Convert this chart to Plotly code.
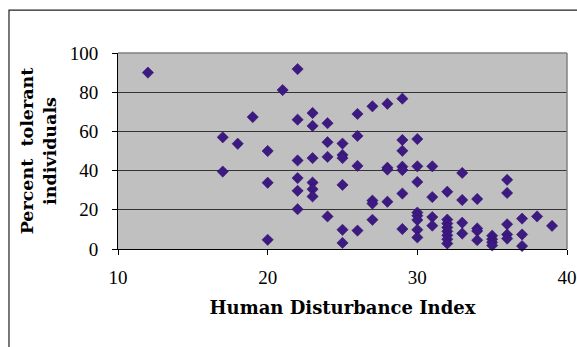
import plotly.graph_objects as go

# Human Disturbance Index (x) and Percent tolerant individuals (y)
hdi = [12,
       17, 17,
       18,
       19,
       20, 20, 20,
       21,
       22, 22, 22, 22, 22, 22,
       23, 23, 23, 23, 23, 23,
       24, 24, 24, 24,
       25, 25, 25, 25, 25, 25,
       26, 26, 26, 26,
       27, 27, 27, 27,
       28, 28, 28, 28,
       29, 29, 29, 29, 29, 29, 29,
       30, 30, 30, 30, 30, 30, 30, 30,
       31, 31, 31, 31,
       32, 32, 32, 32, 32, 32, 32, 32,
       33, 33, 33, 33,
       34, 34, 34, 34,
       35, 35, 35, 35,
       36, 36, 36, 36, 36,
       37, 37, 37,
       38,
       39]
pct_tolerant = [90,
                57, 39.5,
                53.7,
                67.3,
                50, 33.8, 4.7,
                81.1,
                91.8, 66, 45.2, 36.2, 29.7, 20.3,
                69.4, 62.8, 46.4, 33.9, 30.5, 26.8,
                64.2, 54.5, 47, 16.6,
                53.8, 48, 46.4, 32.7, 9.8, 3.1,
                68.9, 57.7, 42.4, 9.4,
                72.8, 24.7, 23.2, 14.9,
                74.1, 41.5, 40.5, 24.1,
                76.7, 55.6, 50.1, 42, 40.3, 28.3, 10.2,
                56.1, 42.2, 34.2, 18.6, 17, 14.8, 9.8, 5.9,
                42.2, 26.5, 16.3, 11.9,
                29.2, 15, 13, 11, 9, 7, 5, 2.8,
                38.8, 25, 13.4, 7.9,
                25.5, 10.5, 9.2, 4.5,
                6.8, 5, 3.4, 1.8,
                35.3, 28.6, 12.6, 7.4, 5.3,
                15.5, 7.4, 1.5,
                16.6,
                11.8]

x_ticks = [10, 20, 30, 40]
y_ticks = [0, 20, 40, 60, 80, 100]

tick_font = "Liberation Serif"
title_font = "DejaVu Serif"

fig = go.Figure()
fig.add_trace(go.Scatter(
    x=hdi, y=pct_tolerant, mode="markers",
    marker=dict(symbol="diamond", size=8.7, color="#3c1a82",
                line=dict(width=0.5, color="#2a0f66")),
    hoverinfo="x+y", showlegend=False, cliponaxis=False,
))

# outer chart border (extends past the visible window on the right/bottom)
fig.add_shape(type="rect", xref="paper", yref="paper",
              x0=-0.2428, x1=1.2, y0=-0.7, y1=1.219,
              line=dict(color="#222222", width=1.2), fillcolor="rgba(0,0,0,0)",
              layer="below")
# plot-area top/right border in gray
fig.add_shape(type="line", xref="paper", yref="paper", x0=0, x1=1, y0=1, y1=1,
              line=dict(color="#808080", width=1.5))
fig.add_shape(type="line", xref="paper", yref="paper", x0=1, x1=1, y0=0, y1=1,
              line=dict(color="#808080", width=1.5))

fig.update_layout(
    width=577, height=347,
    margin=dict(l=118, r=10, t=53, b=98, autoexpand=False),
    paper_bgcolor="white",
    plot_bgcolor="#c0c0c0",
    font=dict(family=tick_font, color="black", size=19),
    xaxis=dict(
        range=[10, 40], tickvals=x_ticks, ticktext=[str(v) for v in x_ticks],
        showgrid=False, zeroline=False, automargin=False,
        showline=True, linecolor="black", linewidth=1,
        ticks="outside", ticklen=5, tickcolor="black",
        ticklabelstandoff=6, ticklabeloverflow="allow",
        tickfont=dict(family=tick_font, size=19),
        title=dict(text="<b>Human Disturbance Index</b>",
                   font=dict(family=title_font, size=18), standoff=14),
    ),
    yaxis=dict(
        range=[0, 100], tickvals=y_ticks, ticktext=[str(v) for v in y_ticks],
        showgrid=True, gridcolor="#333333", gridwidth=1,
        zeroline=False, automargin=False,
        showline=True, linecolor="black", linewidth=1,
        ticks="outside", ticklen=5, tickcolor="black",
        ticklabelstandoff=10, ticklabeloverflow="allow",
        tickfont=dict(family=tick_font, size=19),
        title=dict(text="<b>Percent  tolerant<br>individuals</b>",
                   font=dict(family=title_font, size=17.5), standoff=8),
    ),
)

fig.write_html(
    "out.html",
    config={"displayModeBar": False},
    post_script="document.body.style.margin='0px';document.body.style.overflow='hidden';",
)
